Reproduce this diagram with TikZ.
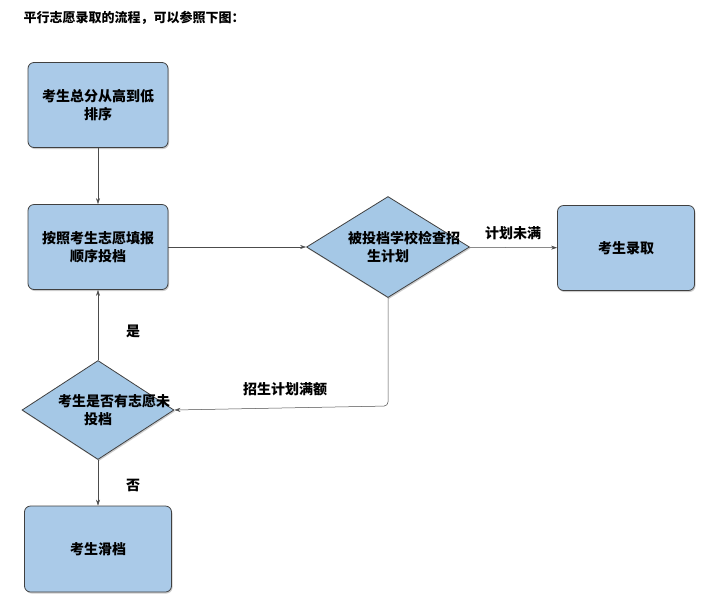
\documentclass[tikz,border=0pt]{standalone}
\usepackage{fontspec}
\setmainfont{Noto Sans CJK SC}
\usetikzlibrary{shapes.geometric,arrows.meta,shadows}
\begin{document}
\begin{tikzpicture}[x=1pt,y=-1pt,
  box/.style={draw=black!75,line width=0.8pt,rounded corners=6pt,fill={rgb,255:red,170;green,202;blue,232},drop shadow={shadow xshift=1pt,shadow yshift=-1.5pt,opacity=0.4},minimum width=140pt,minimum height=85pt,align=center,font=\bfseries\fontsize{14}{18}\selectfont,text width=125pt},
  dia/.style={diamond,aspect=1.6,draw=black!75,line width=0.8pt,fill={rgb,255:red,165;green,200;blue,230},drop shadow={shadow xshift=1pt,shadow yshift=-1.5pt,opacity=0.4},inner sep=0pt,align=center,font=\bfseries\fontsize{14}{18}\selectfont,text width=80pt},
  arr/.style={-{Stealth[length=6pt,width=4pt]},line width=0.5pt,black!70},
  lab/.style={text=black,font=\bfseries\fontsize{14}{18}\selectfont}]
\useasboundingbox (0,0) rectangle (722,614);
\node[anchor=west,font=\bfseries\fontsize{13}{17}\selectfont] (t) at (20,18) {平行志愿录取的流程，可以参照下图：};
\node[box] (a) at (98,105) {考生总分从高到低\\排序};
\node[box] (b) at (98,247) {按照考生志愿填报\\顺序投档};
\node[dia,minimum width=163pt,minimum height=101pt] (c) at (388,247) {被投档学校检查招\\生计划};
\node[box,minimum width=137pt] (d) at (626,248) {考生录取};
\node[dia,minimum width=152pt,minimum height=99pt] (e) at (98,410) {考生是否有志愿未\\投档};
\node[box,minimum width=147pt,minimum height=86pt] (f) at (98,549) {考生滑档};
\draw[arr] (a) -- (b);
\draw[arr] (b) -- (c);
\draw[arr] (c) -- (d) node[lab,midway,above=4pt] {计划未满};
\draw[arr,rounded corners=4pt] (c.south) -- (388,406) -- (e.east);
\node[lab] (l1) at (285,389) {招生计划满额};
\node[lab] (l2) at (133,331) {是};
\node[lab] (l3) at (133,485) {否};
\draw[arr] (e) -- (b);
\draw[arr] (e) -- (f);
\end{tikzpicture}
\end{document}
